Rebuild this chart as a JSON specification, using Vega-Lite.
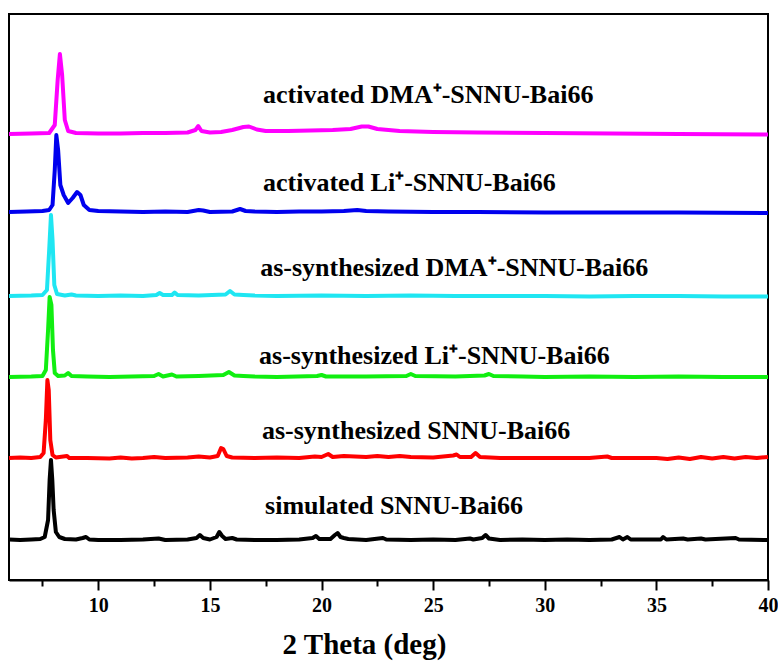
{
  "$schema": "https://vega.github.io/schema/vega-lite/v6.json",
  "width": 759,
  "height": 566,
  "autosize": "none",
  "padding": {"left": 9, "top": 14, "right": 10, "bottom": 82},
  "config": {
    "view": {"stroke": "#000000", "strokeWidth": 2},
    "axisX": {
      "grid": false,
      "labelFont": "Liberation Serif", "labelFontWeight": "bold", "labelFontSize": 20, "labelColor": "#000000",
      "domainColor": "#000000", "domainWidth": 2,
      "tickColor": "#000000", "tickWidth": 2,
      "titleFont": "Liberation Serif", "titleFontWeight": "bold", "titleFontSize": 29, "titleColor": "#000000"
    }
  },
  "datasets": {
    "xrd": [
      {"s":"k","x":6.0,"y":40.5},{"s":"k","x":6.5,"y":40},{"s":"k","x":7.0,"y":40.5},{"s":"k","x":7.4,"y":41},{"s":"k","x":7.6,"y":43},{"s":"k","x":7.75,"y":60},{"s":"k","x":7.82,"y":100},{"s":"k","x":7.88,"y":120},{"s":"k","x":7.94,"y":100},{"s":"k","x":8.0,"y":70},{"s":"k","x":8.1,"y":48},{"s":"k","x":8.25,"y":43},{"s":"k","x":8.5,"y":41},{"s":"k","x":9.0,"y":40.5},{"s":"k","x":9.3,"y":42},{"s":"k","x":9.45,"y":43},{"s":"k","x":9.6,"y":40.5},{"s":"k","x":10,"y":40},{"s":"k","x":11,"y":40},{"s":"k","x":12,"y":40.5},{"s":"k","x":12.7,"y":41.5},{"s":"k","x":13,"y":40},{"s":"k","x":14,"y":40.5},{"s":"k","x":14.4,"y":42},{"s":"k","x":14.55,"y":45},{"s":"k","x":14.7,"y":42},{"s":"k","x":15.0,"y":40.5},{"s":"k","x":15.3,"y":43},{"s":"k","x":15.42,"y":48},{"s":"k","x":15.55,"y":44},{"s":"k","x":15.7,"y":41},{"s":"k","x":16.0,"y":42},{"s":"k","x":16.2,"y":40.5},{"s":"k","x":17,"y":40},{"s":"k","x":18,"y":40},{"s":"k","x":19,"y":40.5},{"s":"k","x":19.6,"y":42},{"s":"k","x":19.75,"y":44},{"s":"k","x":19.9,"y":41},{"s":"k","x":20.4,"y":41},{"s":"k","x":20.6,"y":45},{"s":"k","x":20.72,"y":47},{"s":"k","x":20.85,"y":43},{"s":"k","x":21.0,"y":42},{"s":"k","x":21.2,"y":41},{"s":"k","x":22,"y":40},{"s":"k","x":22.75,"y":42},{"s":"k","x":22.9,"y":40.5},{"s":"k","x":24,"y":40},{"s":"k","x":25,"y":40.5},{"s":"k","x":26,"y":40},{"s":"k","x":26.65,"y":41.5},{"s":"k","x":26.8,"y":40.5},{"s":"k","x":27.2,"y":42},{"s":"k","x":27.35,"y":45},{"s":"k","x":27.5,"y":41.5},{"s":"k","x":28,"y":40},{"s":"k","x":29,"y":40.5},{"s":"k","x":30,"y":40},{"s":"k","x":31,"y":40.5},{"s":"k","x":32,"y":40},{"s":"k","x":33,"y":40.5},{"s":"k","x":33.35,"y":43},{"s":"k","x":33.5,"y":40.5},{"s":"k","x":33.7,"y":43},{"s":"k","x":33.85,"y":40.5},{"s":"k","x":35.2,"y":40.5},{"s":"k","x":35.3,"y":43},{"s":"k","x":35.45,"y":40.5},{"s":"k","x":36.2,"y":41.5},{"s":"k","x":36.4,"y":40.5},{"s":"k","x":37.0,"y":41.5},{"s":"k","x":37.2,"y":40.5},{"s":"k","x":38.55,"y":42},{"s":"k","x":38.7,"y":40.5},{"s":"k","x":40,"y":40},

      {"s":"r","x":6.0,"y":122},{"s":"r","x":6.5,"y":122.5},{"s":"r","x":7.0,"y":122},{"s":"r","x":7.4,"y":123},{"s":"r","x":7.55,"y":127},{"s":"r","x":7.65,"y":160},{"s":"r","x":7.72,"y":200},{"s":"r","x":7.78,"y":190},{"s":"r","x":7.85,"y":140},{"s":"r","x":7.95,"y":125},{"s":"r","x":8.1,"y":122.5},{"s":"r","x":8.6,"y":124},{"s":"r","x":8.7,"y":122},{"s":"r","x":9.5,"y":122},{"s":"r","x":10.5,"y":121.5},{"s":"r","x":11,"y":122.5},{"s":"r","x":11.5,"y":121.5},{"s":"r","x":12,"y":122},{"s":"r","x":12.5,"y":123},{"s":"r","x":13,"y":122},{"s":"r","x":14,"y":122.5},{"s":"r","x":14.5,"y":123.5},{"s":"r","x":15,"y":122.5},{"s":"r","x":15.35,"y":124},{"s":"r","x":15.5,"y":132},{"s":"r","x":15.6,"y":131},{"s":"r","x":15.75,"y":124},{"s":"r","x":16,"y":122.5},{"s":"r","x":17,"y":122},{"s":"r","x":18,"y":122.5},{"s":"r","x":19,"y":122},{"s":"r","x":19.7,"y":123.5},{"s":"r","x":20.0,"y":123},{"s":"r","x":20.3,"y":126},{"s":"r","x":20.5,"y":123},{"s":"r","x":21,"y":124},{"s":"r","x":22,"y":123},{"s":"r","x":22.5,"y":124},{"s":"r","x":23,"y":123},{"s":"r","x":23.5,"y":124},{"s":"r","x":24,"y":123},{"s":"r","x":25,"y":122.5},{"s":"r","x":25.9,"y":124.5},{"s":"r","x":26.05,"y":125.5},{"s":"r","x":26.2,"y":123},{"s":"r","x":26.7,"y":123},{"s":"r","x":26.9,"y":127},{"s":"r","x":27.1,"y":123},{"s":"r","x":28,"y":122},{"s":"r","x":30,"y":122},{"s":"r","x":32,"y":122},{"s":"r","x":32.8,"y":123.5},{"s":"r","x":33,"y":122},{"s":"r","x":34,"y":122},{"s":"r","x":35,"y":122},{"s":"r","x":35.5,"y":121},{"s":"r","x":36,"y":122.5},{"s":"r","x":36.5,"y":121},{"s":"r","x":37,"y":123},{"s":"r","x":37.5,"y":121.5},{"s":"r","x":38,"y":123},{"s":"r","x":38.5,"y":121.5},{"s":"r","x":39,"y":123},{"s":"r","x":39.5,"y":122},{"s":"r","x":40,"y":123},

      {"s":"g","x":6.0,"y":203},{"s":"g","x":7.0,"y":203.5},{"s":"g","x":7.5,"y":204},{"s":"g","x":7.65,"y":210},{"s":"g","x":7.75,"y":250},{"s":"g","x":7.82,"y":283},{"s":"g","x":7.9,"y":275},{"s":"g","x":7.97,"y":230},{"s":"g","x":8.05,"y":207},{"s":"g","x":8.2,"y":204},{"s":"g","x":8.5,"y":204.5},{"s":"g","x":8.65,"y":207},{"s":"g","x":8.8,"y":204},{"s":"g","x":9.5,"y":203.5},{"s":"g","x":10.5,"y":203},{"s":"g","x":11.5,"y":203.5},{"s":"g","x":12.5,"y":204},{"s":"g","x":12.7,"y":206},{"s":"g","x":12.9,"y":203.5},{"s":"g","x":13.3,"y":205.5},{"s":"g","x":13.5,"y":203.5},{"s":"g","x":14.5,"y":204},{"s":"g","x":15.6,"y":205},{"s":"g","x":15.85,"y":208},{"s":"g","x":16.1,"y":204.5},{"s":"g","x":16.5,"y":204},{"s":"g","x":17,"y":203.5},{"s":"g","x":18,"y":203},{"s":"g","x":19.8,"y":204},{"s":"g","x":20,"y":205},{"s":"g","x":20.2,"y":203.5},{"s":"g","x":22,"y":203.5},{"s":"g","x":23.8,"y":204},{"s":"g","x":24.0,"y":206},{"s":"g","x":24.2,"y":204},{"s":"g","x":26,"y":203.5},{"s":"g","x":27.3,"y":204.5},{"s":"g","x":27.5,"y":206},{"s":"g","x":27.7,"y":204},{"s":"g","x":29,"y":203.5},{"s":"g","x":30,"y":203},{"s":"g","x":32,"y":203.5},{"s":"g","x":34,"y":203},{"s":"g","x":36,"y":203.5},{"s":"g","x":38,"y":203},{"s":"g","x":40,"y":203},

      {"s":"c","x":6.0,"y":284},{"s":"c","x":7.0,"y":284.5},{"s":"c","x":7.5,"y":285},{"s":"c","x":7.7,"y":290},{"s":"c","x":7.8,"y":330},{"s":"c","x":7.88,"y":365},{"s":"c","x":7.95,"y":340},{"s":"c","x":8.03,"y":295},{"s":"c","x":8.15,"y":286},{"s":"c","x":8.5,"y":284.5},{"s":"c","x":8.8,"y":285.5},{"s":"c","x":9.0,"y":284.5},{"s":"c","x":10,"y":284},{"s":"c","x":11,"y":284.5},{"s":"c","x":12,"y":284},{"s":"c","x":12.6,"y":285},{"s":"c","x":12.75,"y":287},{"s":"c","x":12.9,"y":285},{"s":"c","x":13.3,"y":285},{"s":"c","x":13.42,"y":287.5},{"s":"c","x":13.55,"y":285},{"s":"c","x":14.5,"y":284.5},{"s":"c","x":15.7,"y":285.5},{"s":"c","x":15.9,"y":289},{"s":"c","x":16.1,"y":285.5},{"s":"c","x":16.5,"y":285},{"s":"c","x":17,"y":284.5},{"s":"c","x":18,"y":284},{"s":"c","x":20,"y":284.5},{"s":"c","x":22,"y":284},{"s":"c","x":24,"y":284.5},{"s":"c","x":26,"y":284},{"s":"c","x":28,"y":284},{"s":"c","x":30,"y":284},{"s":"c","x":32,"y":283.5},{"s":"c","x":34,"y":284},{"s":"c","x":36,"y":284},{"s":"c","x":38,"y":283.5},{"s":"c","x":40,"y":283.5},

      {"s":"b","x":6.0,"y":368},{"s":"b","x":6.8,"y":368.5},{"s":"b","x":7.5,"y":369},{"s":"b","x":7.8,"y":370},{"s":"b","x":7.95,"y":375},{"s":"b","x":8.05,"y":410},{"s":"b","x":8.12,"y":445},{"s":"b","x":8.2,"y":430},{"s":"b","x":8.3,"y":395},{"s":"b","x":8.45,"y":385},{"s":"b","x":8.65,"y":377},{"s":"b","x":8.85,"y":382},{"s":"b","x":9.05,"y":388},{"s":"b","x":9.2,"y":385},{"s":"b","x":9.35,"y":375},{"s":"b","x":9.6,"y":370},{"s":"b","x":10,"y":369},{"s":"b","x":11,"y":368.5},{"s":"b","x":12,"y":368},{"s":"b","x":13,"y":368.5},{"s":"b","x":14,"y":368},{"s":"b","x":14.5,"y":370},{"s":"b","x":14.7,"y":369.5},{"s":"b","x":15,"y":368},{"s":"b","x":16,"y":368.5},{"s":"b","x":16.35,"y":371},{"s":"b","x":16.6,"y":369},{"s":"b","x":17,"y":368.5},{"s":"b","x":18,"y":368},{"s":"b","x":19,"y":368.5},{"s":"b","x":20,"y":368.5},{"s":"b","x":21,"y":369},{"s":"b","x":21.6,"y":370},{"s":"b","x":22,"y":369},{"s":"b","x":23,"y":368.5},{"s":"b","x":25,"y":368},{"s":"b","x":27,"y":368},{"s":"b","x":30,"y":367.5},{"s":"b","x":33,"y":367.5},{"s":"b","x":36,"y":367.5},{"s":"b","x":40,"y":367},

      {"s":"m","x":6.0,"y":446},{"s":"m","x":7.0,"y":446.5},{"s":"m","x":7.8,"y":447},{"s":"m","x":8.05,"y":455},{"s":"m","x":8.18,"y":500},{"s":"m","x":8.28,"y":526},{"s":"m","x":8.38,"y":505},{"s":"m","x":8.5,"y":460},{"s":"m","x":8.65,"y":449},{"s":"m","x":9,"y":447},{"s":"m","x":10,"y":446.5},{"s":"m","x":11,"y":446.5},{"s":"m","x":12,"y":447},{"s":"m","x":13,"y":447},{"s":"m","x":14,"y":447.5},{"s":"m","x":14.35,"y":450},{"s":"m","x":14.48,"y":454},{"s":"m","x":14.62,"y":449},{"s":"m","x":15,"y":447.5},{"s":"m","x":15.5,"y":448},{"s":"m","x":16,"y":450},{"s":"m","x":16.5,"y":453},{"s":"m","x":16.75,"y":453.5},{"s":"m","x":17.1,"y":450.5},{"s":"m","x":17.5,"y":449},{"s":"m","x":18.5,"y":449},{"s":"m","x":19.5,"y":449.5},{"s":"m","x":20.5,"y":450},{"s":"m","x":21.3,"y":451},{"s":"m","x":21.8,"y":453.5},{"s":"m","x":22.1,"y":453.5},{"s":"m","x":22.5,"y":451},{"s":"m","x":23.5,"y":449},{"s":"m","x":25,"y":448},{"s":"m","x":27,"y":447.5},{"s":"m","x":30,"y":447},{"s":"m","x":33,"y":446.5},{"s":"m","x":36,"y":446},{"s":"m","x":40,"y":445.5}
    ],
    "labels": [
      {"t":"activated DMA⁺-SNNU-Bai66","x":17.38,"y":477},
      {"t":"activated Li⁺-SNNU-Bai66","x":17.38,"y":389},
      {"t":"as-synthesized DMA⁺-SNNU-Bai66","x":17.25,"y":304},
      {"t":"as-synthesized Li⁺-SNNU-Bai66","x":17.2,"y":216},
      {"t":"as-synthesized SNNU-Bai66","x":17.33,"y":141},
      {"t":"simulated SNNU-Bai66","x":17.47,"y":66}
    ]
  },
  "encoding": {
    "x": {
      "field": "x", "type": "quantitative",
      "scale": {"domain": [6, 40], "nice": false, "zero": false},
      "axis": {
        "values": [7.5, 10, 12.5, 15, 17.5, 20, 22.5, 25, 27.5, 30, 32.5, 35, 37.5, 40],
        "labelExpr": "datum.value % 5 === 0 ? datum.label : ''",
        "title": "2 Theta (deg)",
        "titleFont": "Liberation Serif", "titleFontWeight": "bold", "titleFontSize": 29, "titleColor": "#000000",
        "titleX": 355, "titleY": 73, "titleBaseline": "alphabetic", "titleAlign": "center",
        "labelFont": "Liberation Serif", "labelFontWeight": "bold", "labelFontSize": 20, "labelColor": "#000000",
        "labelPadding": 5, "labelFlush": false, "labelOverlap": false,
        "domainColor": "#000000", "domainWidth": 2,
        "tickColor": "#000000", "tickWidth": 2,
        "tickSize": {"condition": {"test": "datum.value % 5 === 0", "value": 10}, "value": 6},
        "grid": false
      }
    },
    "y": {
      "field": "y", "type": "quantitative",
      "scale": {"domain": [0, 566], "nice": false, "zero": false},
      "axis": null
    }
  },
  "layer": [
    {
      "data": {"name": "xrd"},
      "mark": {"type": "line", "strokeWidth": 4, "strokeJoin": "round"},
      "encoding": {
        "color": {
          "field": "s", "type": "nominal",
          "scale": {"domain": ["k", "r", "g", "c", "b", "m"], "range": ["#000000", "#FF0000", "#11EE11", "#1FE6F2", "#0000EE", "#FF00FF"]},
          "legend": null
        },
        "order": {"field": "x", "type": "quantitative"}
      }
    },
    {
      "data": {"name": "labels"},
      "mark": {"type": "text", "align": "left", "baseline": "alphabetic", "font": "Liberation Serif", "fontWeight": "bold", "fontSize": 26, "color": "#000000"},
      "encoding": {
        "text": {"field": "t"}
      }
    }
  ]
}
